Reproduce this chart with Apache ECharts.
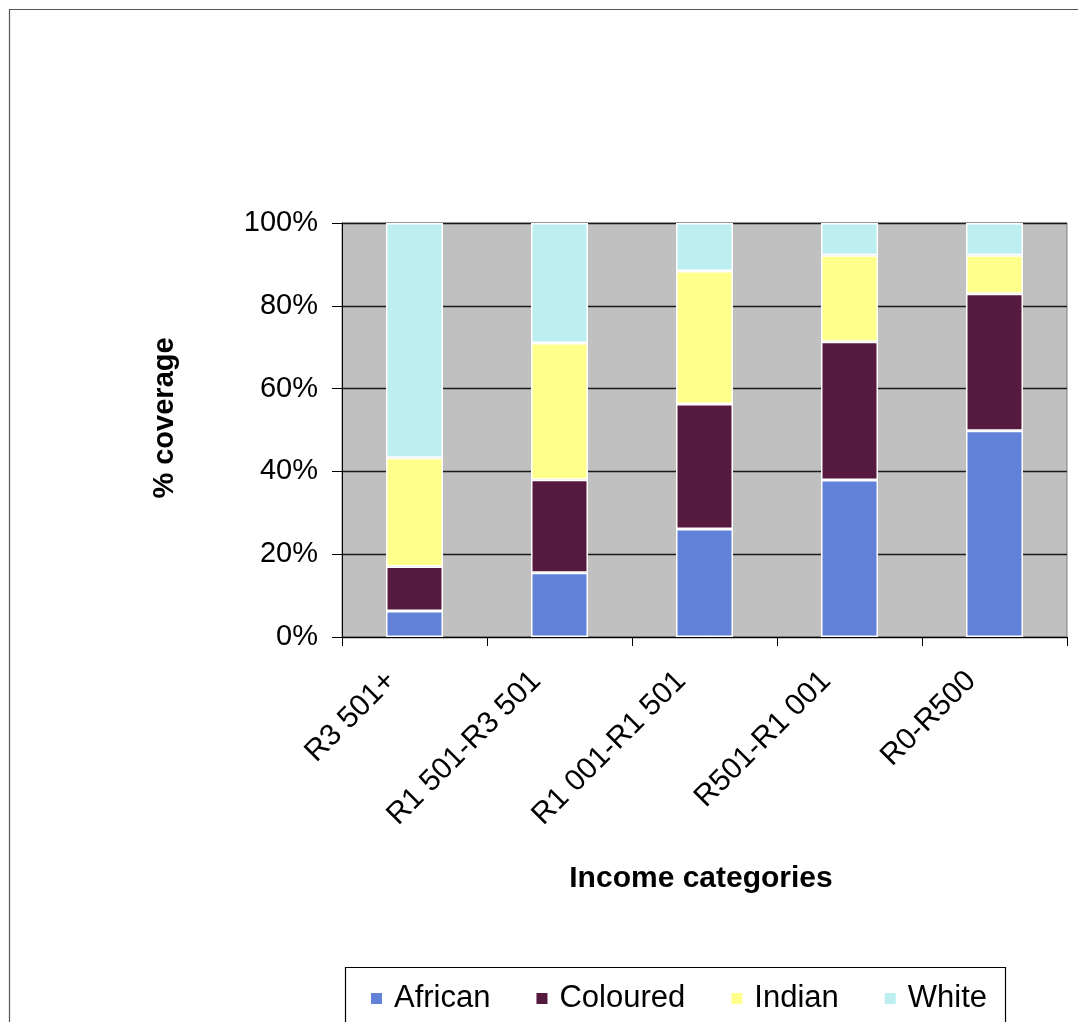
<!DOCTYPE html>
<html>
<head>
<meta charset="utf-8">
<script src="https://cdn.jsdelivr.net/npm/echarts@6/dist/echarts.min.js"></script>
<style>
html,body{margin:0;padding:0;background:#fff;}
#chart{width:1078px;height:1022px;}
</style>
</head>
<body>
<div id="chart"></div>
<script>
const categories = ['R3 501+', 'R1 501-R3 501', 'R1 001-R1 501', 'R501-R1 001', 'R0-R500'];
const african = [6.3, 15.5, 26.1, 37.9, 49.8];
const coloured = [10.7, 22.5, 30.2, 33.4, 33.1];
const indian = [26.3, 33.0, 32.1, 20.9, 9.3];
const white = [56.7, 29.0, 11.6, 7.8, 7.8];
const seriesNames = ['African', 'Coloured', 'Indian', 'White'];
const yTicks = [0, 20, 40, 60, 80, 100];

const FONT = '"Liberation Sans", Arial, sans-serif';
const colors = ['#6281D9', '#561A3F', '#FFFF8C', '#BDEFF1'];
const dataSets = [african, coloured, indian, white];

const chart = echarts.init(document.getElementById('chart'));
chart.setOption({
  backgroundColor: '#ffffff',
  animation: false,
  textStyle: { fontFamily: FONT },
  grid: {
    left: 342, top: 223, right: 11, bottom: 385,
    show: true, backgroundColor: '#C0C0C0', borderColor: '#808080', borderWidth: 1
  },
  legend: {
    left: 364, top: 978,
    itemWidth: 13, itemHeight: 13, itemGap: 44,
    icon: 'rect',
    data: seriesNames,
    textStyle: { fontFamily: FONT, fontSize: 31, color: '#000', padding: [0, 0, 0, 6] }
  },
  xAxis: {
    type: 'category',
    data: categories,
    axisLine: { lineStyle: { color: '#000', width: 1 } },
    axisTick: { show: true, length: 9, lineStyle: { color: '#000' } },
    axisLabel: {
      rotate: 45, margin: 16, fontSize: 30, color: '#000', fontFamily: FONT,
      padding: [0, 33, 0, 0], interval: 0
    }
  },
  yAxis: {
    type: 'value',
    min: yTicks[0], max: yTicks[yTicks.length - 1], interval: 20,
    axisLine: { show: true, lineStyle: { color: '#000', width: 1 } },
    axisTick: { show: true, inside: false, length: 10, lineStyle: { color: '#000' } },
    splitLine: { show: true, lineStyle: { color: '#1a1a1a', width: 1.3 } },
    axisLabel: { formatter: '{value}%', fontSize: 29, color: '#000', margin: 24, fontFamily: FONT }
  },
  series: seriesNames.map((name, i) => ({
    name: name,
    type: 'bar',
    stack: 'total',
    barWidth: 57,
    data: dataSets[i],
    itemStyle: { color: colors[i], borderColor: '#ffffff', borderWidth: 1.5 }
  })),
  graphic: [
    { type: 'rect', left: 7, top: 7, shape: { width: 1200, height: 1200 }, silent: true, z: -10,
      style: { fill: 'none', stroke: '#555', lineWidth: 1.2 } },
    { type: 'rect', left: 343, top: 965, shape: { width: 660, height: 100 }, silent: true, z: -5,
      style: { fill: 'none', stroke: '#000', lineWidth: 1.2 } },
    { type: 'text', x: 165, y: 418, rotation: Math.PI / 2,
      style: { text: '% coverage', font: 'bold 29px ' + FONT, fill: '#000', align: 'center', verticalAlign: 'middle' } },
    { type: 'text', x: 701, y: 879,
      style: { text: 'Income categories', font: 'bold 30px ' + FONT, fill: '#000', align: 'center', verticalAlign: 'middle' } }
  ]
});
</script>
</body>
</html>
